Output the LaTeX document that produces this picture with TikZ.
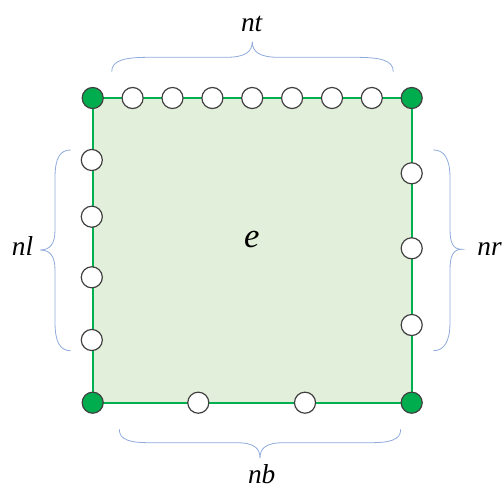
\documentclass[tikz,border=0pt]{standalone}
\usepackage{fontspec}
\setmainfont{Liberation Serif}
\definecolor{elfill}{HTML}{E2EFDA}
\definecolor{elline}{HTML}{00B050}
\definecolor{cornerfill}{HTML}{00AD4E}
\definecolor{ringgray}{HTML}{404040}
\definecolor{braceblue}{HTML}{8EAADB}
\tikzset{
  vert/.style={circle, draw=ringgray, line width=0.9pt, fill=white, minimum size=15.8pt, inner sep=0pt},
  cornervert/.style={vert, fill=cornerfill},
  edgeline/.style={draw=elline, line width=1.5pt},
  bracestyle/.style={draw=braceblue, line width=0.6pt},
  lbl/.style={font=\fontsize{20.5}{24}\selectfont\itshape, inner sep=0pt, anchor=base},
  elbl/.style={font=\fontsize{26}{30}\selectfont\itshape, inner sep=0pt, anchor=base}
}
\begin{document}
\begin{tikzpicture}[x=0.75pt, y=-0.75pt]
\useasboundingbox (0,0) rectangle (504,489);
% corner coordinates
\coordinate (ctl) at (92.7,98);
\coordinate (ctr) at (411.7,98);
\coordinate (cbr) at (411.7,402.7);
\coordinate (cbl) at (92.7,402.7);
\path[fill=elfill] (ctl) -- (ctr) -- (cbr) -- (cbl) -- cycle;
\draw[edgeline] (ctl) -- (ctr) -- (cbr) -- (cbl) -- cycle;
% corner vertices
\node[cornervert] (tl) at (ctl) {};
\node[cornervert] (tr) at (ctr) {};
\node[cornervert] (br) at (cbr) {};
\node[cornervert] (bl) at (cbl) {};
% top
\foreach \i/\x in {1/132.6,2/172.5,3/212.4,4/252.2,5/292.1,6/332,7/371.8}{
  \node[vert] (t\i) at (\x,98) {};
}
% left
\foreach \i/\y in {1/160,2/216.7,3/277.3,4/340}{
  \node[vert] (l\i) at (91.8,\y) {};
}
% right
\foreach \i/\y in {1/173.3,2/248.3,3/325}{
  \node[vert] (r\i) at (411.7,\y) {};
}
% bottom
\node[vert] (b1) at (198.3,402.7) {};
\node[vert] (b2) at (305,402.7) {};
% braces
\draw[bracestyle] (111.7,71.7) .. controls (111.7,60) and (125,57.3) .. (150,57.3) -- (226,57.3) .. controls (245,57.3) and (252.3,52) .. (252.3,41.7) .. controls (252.3,52) and (259.6,57.3) .. (278.6,57.3) -- (355,57.3) .. controls (380,57.3) and (393.3,60) .. (393.3,71.7);
\draw[bracestyle] (119.3,429.3) .. controls (119.3,440) and (130,442.7) .. (150,442.7) -- (236,442.7) .. controls (254,442.7) and (260,448) .. (260,458.3) .. controls (260,448) and (266,442.7) .. (284,442.7) -- (370,442.7) .. controls (390,442.7) and (400.7,440) .. (400.7,429.3);
\draw[bracestyle] (70.7,150) .. controls (60,150) and (55,158) .. (55,178) -- (55,230) .. controls (55,244) and (50,250) .. (40,250) .. controls (50,250) and (55,256) .. (55,270) -- (55,322) .. controls (55,342) and (60,350.7) .. (70.7,350.7);
\draw[bracestyle] (433.3,150) .. controls (444,150) and (450,158) .. (450,178) -- (450,229) .. controls (450,243) and (453,249.3) .. (461.7,249.3) .. controls (453,249.3) and (450,256) .. (450,270) -- (450,322) .. controls (450,342) and (444,350.7) .. (433.3,350.7);
% labels
\node[lbl] (nt) at (251.7,31.7) {nt};
\node[lbl] (nl) at (22.5,255.7) {nl};
\node[lbl] (nr) at (489.5,255.7) {nr};
\node[lbl] (nb) at (261.7,483) {nb};
\node[elbl] (e) at (251.7,247.3) {e};
\end{tikzpicture}
\end{document}
